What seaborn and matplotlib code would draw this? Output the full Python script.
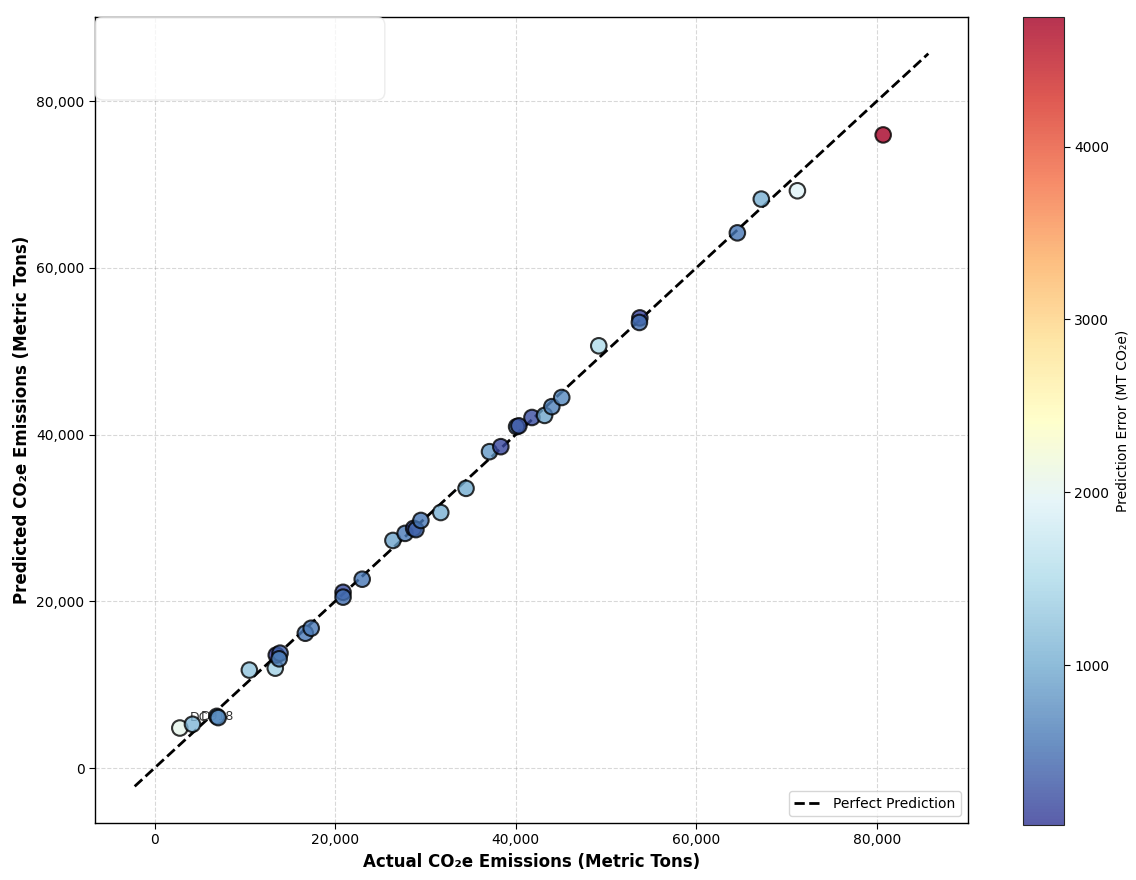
import matplotlib
matplotlib.use("Agg")
import matplotlib.pyplot as plt
import seaborn as sns
import numpy as np
import pandas as pd
from matplotlib.ticker import FuncFormatter
from matplotlib.patches import FancyBboxPatch

actual = [2800, 4200, 6900, 7050, 10500, 13370, 13480, 13900, 13800, 16700,
          17350, 20880, 20880, 23000, 26400, 27750, 28700, 28950, 29500, 31700,
          34500, 37100, 38350, 40100, 40350, 41800, 43200, 44000, 45100, 49200,
          53750, 53700, 64550, 67200, 71200, 80700]
predicted = [4800, 5250, 6200, 6050, 11750, 11980, 13550, 13780, 13100, 16170,
             16770, 21080, 20500, 22650, 27300, 28150, 28750, 28600, 29700, 30650,
             33550, 37950, 38550, 40950, 41050, 42050, 42300, 43350, 44450, 50650,
             54000, 53450, 64200, 68250, 69250, 75950]
error = [2050, 1100, 700, 750, 1250, 1400, 75, 400, 650, 600,
         600, 250, 500, 550, 950, 600, 200, 450, 550, 1050,
         1000, 850, 200, 650, 300, 250, 950, 650, 700, 1500,
         150, 500, 550, 1050, 1950, 4750]
label_texts = ["DC", "D918"]
label_x = [3950, 5150]
label_y = [5650, 5750]

df = pd.DataFrame({"actual": actual, "predicted": predicted, "error": error})

sns.set_style("white")
plt.rcParams['font.family'] = ['DejaVu Sans']
plt.rcParams['text.color'] = 'black'
plt.rcParams['axes.labelcolor'] = 'black'
plt.rcParams['xtick.color'] = 'black'
plt.rcParams['ytick.color'] = 'black'

fig = plt.figure(figsize=(11.36, 8.8), dpi=100)
ax = fig.add_axes([95/1136, 1-823/880, 873/1136, 806/880])
cax = fig.add_axes([1023/1136, 1-825/880, 41/1136, 808/880])

lo = min(df.actual.min(), df.predicted.min()) - 5000
hi = max(df.actual.max(), df.predicted.max()) + 5000
ax.plot([lo, hi], [lo, hi], 'k--', lw=2, label='Perfect Prediction', zorder=2)

for t, x, y in zip(label_texts, label_x, label_y):
    ax.text(x, y, t, fontsize=9, color='#333333', zorder=2.5)

sc = ax.scatter(df.actual, df.predicted, c=df.error, cmap='RdYlBu_r',
                s=125, alpha=0.8, edgecolors='black', linewidths=1.5, zorder=3)

ax.grid(True, linestyle='--', alpha=0.3, color='gray')
ax.set_axisbelow(True)
fmt = FuncFormatter(lambda v, p: f"{int(v):,}")
ax.xaxis.set_major_formatter(fmt)
ax.yaxis.set_major_formatter(fmt)
ax.tick_params(axis='both', labelsize=10, length=4, left=True, bottom=True)
ax.set_xlabel('Actual CO₂e Emissions (Metric Tons)', fontsize=12, fontweight='bold')
ax.set_ylabel('Predicted CO₂e Emissions (Metric Tons)', fontsize=12, fontweight='bold')
for s in ax.spines.values():
    s.set_color('black')
    s.set_linewidth(1)

box = FancyBboxPatch((0.0, 0.897), 0.332, 0.103, transform=ax.transAxes,
                     boxstyle="round,pad=0,rounding_size=0.01",
                     facecolor='white', edgecolor='#e6e6e6', alpha=0.75, lw=1, zorder=4)
ax.add_patch(box)

ax.legend(loc='lower right', fontsize=10)

cb = fig.colorbar(sc, cax=cax)
cb.set_label('Prediction Error (MT CO₂e)', fontsize=10)
cb.ax.tick_params(labelsize=10, length=4, right=True)

fig.savefig('out.png', dpi=100)
